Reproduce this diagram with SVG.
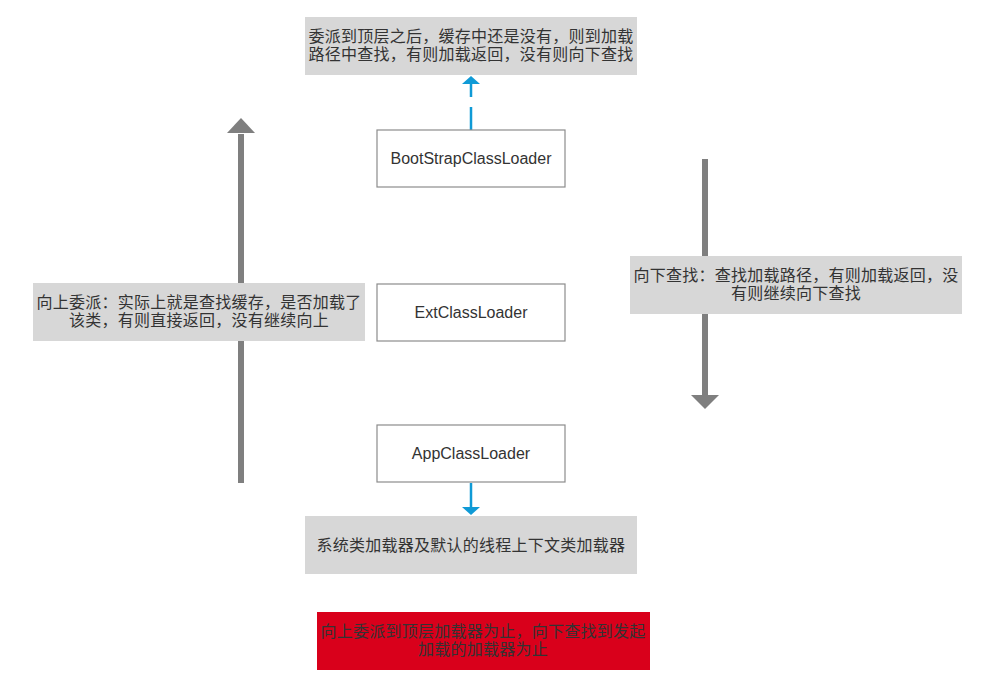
<svg xmlns="http://www.w3.org/2000/svg" width="985" height="681" viewBox="0 0 985 681">
<style>
text{font-family:"Liberation Sans","Noto Sans CJK SC",sans-serif;font-size:16px;fill:#333;text-anchor:middle}
.cjk{letter-spacing:0.25px}
.lbl{fill:#d7d7d7}
.node{fill:#fff;stroke:#8c8c8c;stroke-width:1.2}
.big{stroke:#7f7f7f;stroke-width:6;fill:none}
.blue{stroke:#0f9ad6;stroke-width:2.5;fill:none}
.gh{fill:#7f7f7f}
.bh{fill:#0f9ad6}
</style>
<rect width="985" height="681" fill="#fff"/>
<g id="connectors">
<line class="big" x1="241" y1="483" x2="241" y2="134"/>
<path class="gh" d="M227,133 L241,118 L255,133 Z"/>
<line class="big" x1="705" y1="159" x2="705" y2="395"/>
<path class="gh" d="M691,395 L705,409 L719,395 Z"/>
<line class="blue" x1="471" y1="130" x2="471" y2="84" stroke-dasharray="23 10"/>
<path class="bh" d="M462,84 L471,76 L480,84 Z"/>
<line class="blue" x1="471" y1="483" x2="471" y2="508"/>
<path class="bh" d="M462,507 L471,515 L480,507 Z"/>
</g>
<g id="top-note">
<rect class="lbl" x="305" y="17" width="332" height="58"/>
<text class="cjk" x="471" y="42">委派到顶层之后，缓存中还是没有，则到加载</text>
<text class="cjk" x="471" y="60">路径中查找，有则加载返回，没有则向下查找</text>
</g>
<g id="bootstrap">
<rect class="node" x="377" y="130" width="188" height="57"/>
<text x="471" y="164">BootStrapClassLoader</text>
</g>
<g id="ext">
<rect class="node" x="377" y="284" width="188" height="57"/>
<text x="471" y="318">ExtClassLoader</text>
</g>
<g id="app">
<rect class="node" x="377" y="425" width="188" height="57"/>
<text x="471" y="459">AppClassLoader</text>
</g>
<g id="bottom-note">
<rect class="lbl" x="305" y="516" width="332" height="58"/>
<text class="cjk" x="471" y="551">系统类加载器及默认的线程上下文类加载器</text>
</g>
<g id="left-note">
<rect class="lbl" x="33" y="283" width="332" height="58"/>
<text class="cjk" x="199" y="308">向上委派：实际上就是查找缓存，是否加载了</text>
<text class="cjk" x="199" y="326">该类，有则直接返回，没有继续向上</text>
</g>
<g id="right-note">
<rect class="lbl" x="630" y="256" width="332" height="58"/>
<text class="cjk" x="796" y="281">向下查找：查找加载路径，有则加载返回，没</text>
<text class="cjk" x="796" y="299">有则继续向下查找</text>
</g>
<g id="summary">
<rect x="317" y="612" width="333" height="58" fill="#d9001b"/>
<text class="cjk" x="483" y="637">向上委派到顶层加载器为止，向下查找到发起</text>
<text class="cjk" x="483" y="655">加载的加载器为止</text>
</g>
</svg>
